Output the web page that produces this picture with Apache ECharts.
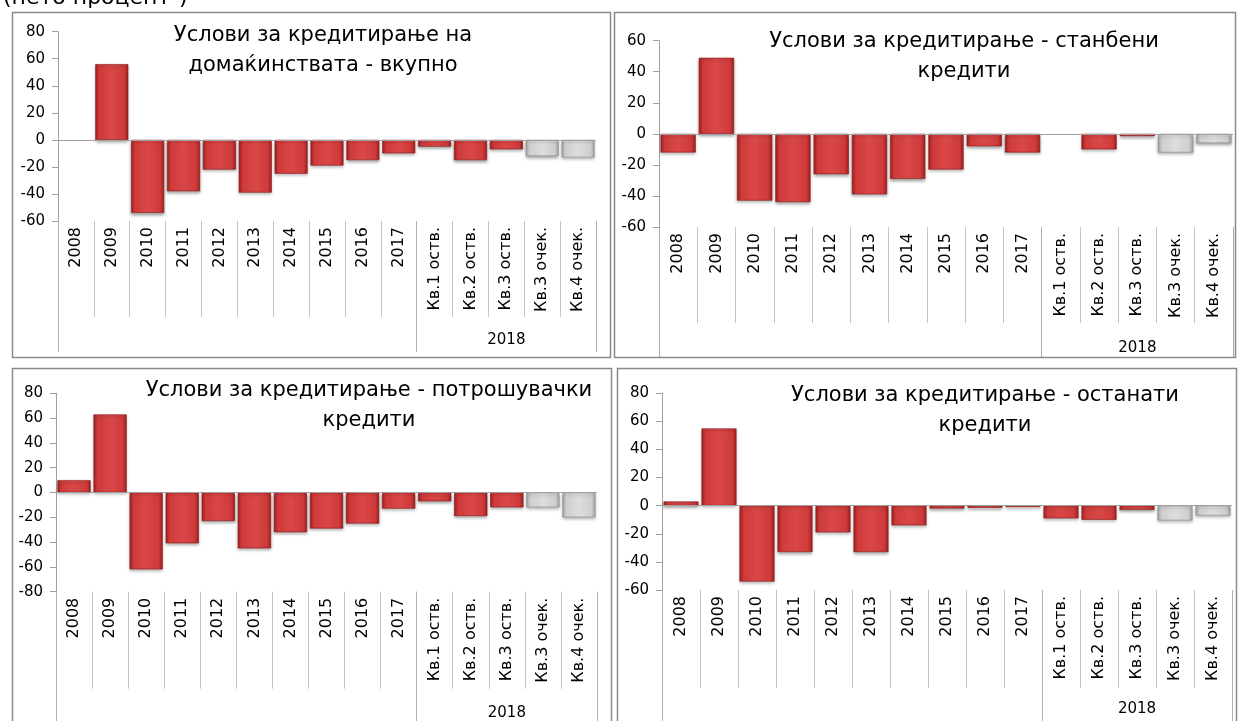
<!DOCTYPE html>
<html><head><meta charset="utf-8">
<script src="https://cdn.jsdelivr.net/npm/echarts@6/dist/echarts.min.js"></script>
<style>html,body{margin:0;padding:0;background:#fff;overflow:hidden}#c{width:1238px;height:721px;}</style>
</head><body><div id="c"></div>
<script>
// ---- data ----
const categories = ['2008','2009','2010','2011','2012','2013','2014','2015','2016','2017','Кв.1 оств.','Кв.2 оств.','Кв.3 оств.','Кв.3 очек.','Кв.4 очек.'];
const groupLabel = '2018';
const household = [0, 56, -54, -38, -22, -39, -25, -19, -15, -10, -5, -15, -7, -12, -13];
const housing   = [-12, 49, -43, -44, -26, -39, -29, -23, -8, -12, 0, -10, -1.5, -12, -6];
const consumer  = [10, 63, -62, -41, -23, -45, -32, -29, -25, -13, -7, -19, -12, -12, -20];
const other     = [3, 55, -54, -33, -19, -33, -14, -2, -1.5, -1, -9, -10, -3, -10.5, -7];
const panelTitles = [
  'Услови за кредитирање на\nдомаќинствата - вкупно',
  'Услови за кредитирање - станбени\nкредити',
  'Услови за кредитирање - потрошувачки\nкредити',
  'Услови за кредитирање - останати\nкредити'
];
const yMin = [-60, -60, -80, -60];
const yMax = [80, 60, 80, 80];
const yStep = 20;
const unitNote = '(нето процент¹)';

// ---- layout / style ----
const FONT = 'DejaVu Sans';
const panels = [
  {values: household, grid:{left:58, top:31.7, width:538, height:189.3}, box:[12.5,12.5,598,345], title:[318,16], catLen:96, grpLen:131, grpMargin:112},
  {values: housing,   grid:{left:659, top:40.7, width:574, height:186.3}, box:[614.5,12.5,621,345], title:[959,22], catLen:96, grpLen:131, grpMargin:114},
  {values: consumer,  grid:{left:56, top:393.3, width:541, height:198.4}, box:[12.5,368.5,599,360], title:[364,371], catLen:97, grpLen:140, grpMargin:114},
  {values: other,     grid:{left:662, top:393.3, width:570, height:196.7}, box:[617.5,368.5,619,360], title:[980,376], catLen:98, grpLen:140, grpMargin:112}
];
const groupStart = categories.findIndex(c => c.startsWith('Кв'));
const isForecast = categories.map(c => c.indexOf('очек') >= 0);

function grad(edge, mid, center) {
  return {type:'linear', x:0, y:0, x2:1, y2:0, colorStops:[
    {offset:0, color:edge},{offset:0.12, color:mid},{offset:0.5, color:center},{offset:0.88, color:mid},{offset:1, color:edge}]};
}
const redStyle = {color: grad('#a32020','#cf3a3a','#d94848'), borderColor:'#8c1a1a', borderWidth:0.6,
  shadowColor:'rgba(0,0,0,0.35)', shadowBlur:3, shadowOffsetY:2};
const grayStyle = {color: grad('#a5a5a5','#cfcfcf','#dddddd'), borderColor:'#8e8e8e', borderWidth:0.6,
  shadowColor:'rgba(0,0,0,0.35)', shadowBlur:3, shadowOffsetY:2};
const emptyStyle = {color:'rgba(0,0,0,0)', borderWidth:0, shadowBlur:0};

const option = {animation:false, backgroundColor:'#fff', textStyle:{fontFamily:FONT},
  grid:[], xAxis:[], yAxis:[], series:[], title:[], graphic:[]};

option.graphic.push({type:'text', left:3, top:-13, style:{text:unitNote, font:'22px "DejaVu Sans"', fill:'#000'}});

panels.forEach((p, i) => {
  option.grid.push(Object.assign({containLabel:false}, p.grid));
  option.graphic.push({type:'rect', shape:{x:p.box[0], y:p.box[1], width:p.box[2], height:p.box[3]},
    style:{fill:'none', stroke:'#8a8a8a', lineWidth:1.5}, z:10});
  option.title.push({text:panelTitles[i], left:p.title[0], top:p.title[1], textAlign:'center',
    textStyle:{fontFamily:FONT, fontSize:21, fontWeight:'normal', color:'#000', lineHeight:30}});
  option.yAxis.push({type:'value', gridIndex:i, min:yMin[i], max:yMax[i], interval:yStep,
    axisLine:{show:true, lineStyle:{color:'#a0a0a0', width:1}},
    axisTick:{show:true, length:6, lineStyle:{color:'#a0a0a0'}},
    splitLine:{show:false},
    axisLabel:{color:'#000', fontSize:15, fontFamily:FONT, margin:13}});
  // category axis (labels + dividers)
  option.xAxis.push({type:'category', gridIndex:i, data:categories, position:'bottom',
    axisLine:{show:false, onZero:false},
    axisTick:{show:true, interval:0, length:p.catLen, lineStyle:{color:'#c4c4c4'}},
    axisLabel:{interval:0, rotate:90, color:'#000', fontSize:16, fontFamily:FONT, margin:6}});
  // group axis ("2018")
  option.xAxis.push({type:'value', gridIndex:i, min:0, max:categories.length, position:'bottom',
    axisLine:{show:false, onZero:false}, splitLine:{show:false},
    axisTick:{show:true, customValues:[0, groupStart, categories.length], length:p.grpLen, lineStyle:{color:'#b0b0b0'}},
    axisLabel:{show:true, customValues:[(groupStart + categories.length)/2], formatter:() => groupLabel,
      color:'#000', fontSize:15, fontFamily:FONT, margin:p.grpMargin}});
  option.series.push({type:'bar', xAxisIndex:i*2, yAxisIndex:i, barCategoryGap:'8%',
    data:p.values.map((v, k) => ({value:v, itemStyle: v === 0 ? emptyStyle : (isForecast[k] ? grayStyle : redStyle)})),
    markLine:{silent:true, symbol:'none', label:{show:false}, animation:false,
      lineStyle:{color:'#a0a0a0', width:1, type:'solid'}, data:[{yAxis:0}]}});
});

const chart = echarts.init(document.getElementById('c'), null, {renderer:'canvas'});
chart.setOption(option);
</script>
</body></html>
